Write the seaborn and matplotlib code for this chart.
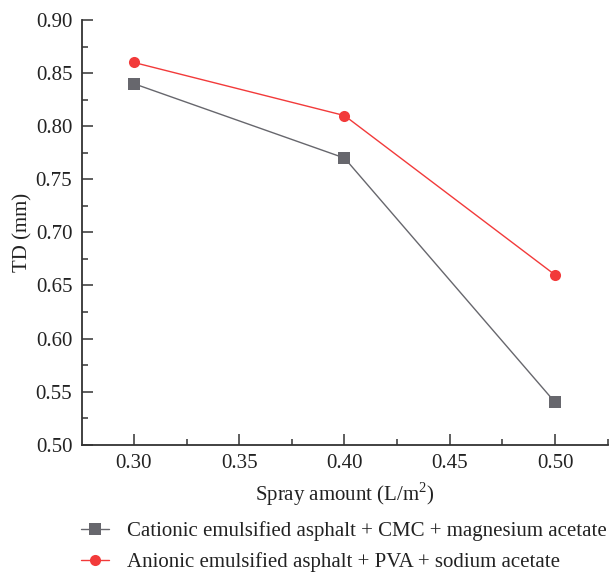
import matplotlib
matplotlib.use("Agg")
import matplotlib.pyplot as plt
import seaborn as sns
import pandas as pd
from matplotlib.ticker import MultipleLocator

spray = [0.30, 0.40, 0.50]
cationic = [0.84, 0.77, 0.54]
anionic = [0.86, 0.81, 0.66]
series_names = ["Cationic emulsified asphalt + CMC + magnesium acetate",
                "Anionic emulsified asphalt + PVA + sodium acetate"]

df = pd.DataFrame({
    "x": spray * 2,
    "y": cationic + anionic,
    "series": [series_names[0]] * 3 + [series_names[1]] * 3,
})

sns.set_theme(style="ticks")
plt.rcParams["font.family"] = ["Liberation Serif", "DejaVu Serif"]
plt.rcParams["mathtext.fontset"] = "custom"
plt.rcParams["mathtext.rm"] = "Liberation Serif"

fig = plt.figure(figsize=(6.16, 5.72), dpi=100)
ax = fig.add_axes([0.1331, 0.2225, 0.854, 0.7425])

palette = {series_names[0]: "#67676d", series_names[1]: "#f23a3a"}
markers = {series_names[0]: "s", series_names[1]: "o"}
sns.lineplot(data=df, x="x", y="y", hue="series", style="series",
             palette=palette, markers=markers, dashes=False,
             markersize=8, markeredgewidth=0, linewidth=1.0, ax=ax)

ax.set_xlim(0.2753, 0.5252)
ax.set_ylim(0.50, 0.90)
ax.xaxis.set_major_locator(MultipleLocator(0.05))
ax.xaxis.set_minor_locator(MultipleLocator(0.025))
ax.yaxis.set_major_locator(MultipleLocator(0.05))
ax.yaxis.set_minor_locator(MultipleLocator(0.025))
ax.xaxis.set_major_formatter(matplotlib.ticker.FormatStrFormatter("%.2f"))
ax.yaxis.set_major_formatter(matplotlib.ticker.FormatStrFormatter("%.2f"))
ax.tick_params(which="major", direction="in", length=8, width=1.1, color="#333333",
               labelsize=15, labelcolor="#222222", pad=7)
ax.tick_params(which="minor", direction="in", length=4, width=1.1, color="#333333")
for s in ["top", "right"]:
    ax.spines[s].set_visible(False)
for s in ["left", "bottom"]:
    ax.spines[s].set_linewidth(1.3)
    ax.spines[s].set_color("#333333")

ax.set_xlabel("Spray amount (L/m$^2$)", fontsize=15, color="#222222", labelpad=5)
ax.set_ylabel("TD (mm)", fontsize=15, color="#222222", labelpad=2)

handles, labels = ax.get_legend_handles_labels()
ax.get_legend().remove()
fig.legend(handles, labels, loc="lower left", bbox_to_anchor=(0.125, -0.008),
           frameon=False, fontsize=15, labelcolor="#222222",
           handlelength=1.35, handletextpad=0.85, labelspacing=0.55,
           borderaxespad=0.0, borderpad=0.2)

fig.savefig("out.png", dpi=100)
